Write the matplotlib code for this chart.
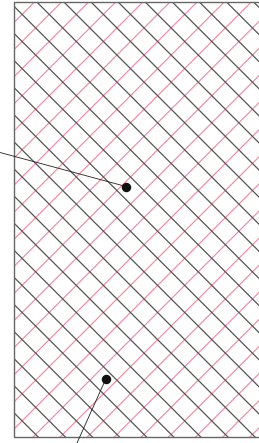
import matplotlib
matplotlib.use("Agg")
import matplotlib.pyplot as plt
from matplotlib.patches import Rectangle

# frame of the hatched panel (pixel coords, y down)
left, top, bottom, right = 13.5, 1.5, 436.7, 262

# black lines going down-right: y where each crosses the left edge
black_y0 = [-238.1, -211.0, -183.9, -156.8, -129.7, -102.6, -75.5, -48.4, -21.3,
            5.8, 32.9, 60.0, 87.1, 114.2, 141.3, 168.4, 195.5, 222.6, 249.7,
            276.8, 303.9, 331.0, 358.1, 385.2, 412.3]
# red lines going up-right: y where each crosses the left edge
red_y0 = [23.0, 50.1, 77.2, 104.3, 131.4, 158.5, 185.6, 212.7, 239.8, 266.9,
          294.0, 321.1, 348.2, 375.3, 402.4, 429.5, 456.6, 483.7, 510.8, 537.9,
          565.0, 592.1, 619.2, 646.3, 673.4]
slope = 1.0

# marked points and where their leader lines end
dot_x = [126, 106]
dot_y = [186.5, 378.5]
lead_x = [0, 77]
lead_y = [152.5, 443]

fig = plt.figure(figsize=(2.59, 4.43), dpi=100)
ax = fig.add_axes([0, 0, 1, 1])
ax.set_xlim(0, 259)
ax.set_ylim(443, 0)
ax.axis("off")

clip = Rectangle((left, top), right - left, bottom - top, transform=ax.transData,
                 fill=False)

xs = [left, right]
for y0 in red_y0:
    ln, = ax.plot(xs, [y0, y0 - slope * (right - left)], color="#f28aa2", lw=0.85)
    ln.set_clip_path(clip)
for y0 in black_y0:
    ln, = ax.plot(xs, [y0, y0 + slope * (right - left)], color="#555555", lw=0.9)
    ln.set_clip_path(clip)

# frame
ax.plot([right, left, left, right], [top, top, bottom, bottom], color="#666666", lw=1.0)

# leaders and dots
for i in range(len(dot_x)):
    ax.plot([lead_x[i], dot_x[i]], [lead_y[i], dot_y[i]], color="#222222", lw=0.6,
            clip_on=False)
ax.plot(dot_x, dot_y, "o", color="#111111", ms=5.8)

fig.savefig("out.png", dpi=100, facecolor="white")
